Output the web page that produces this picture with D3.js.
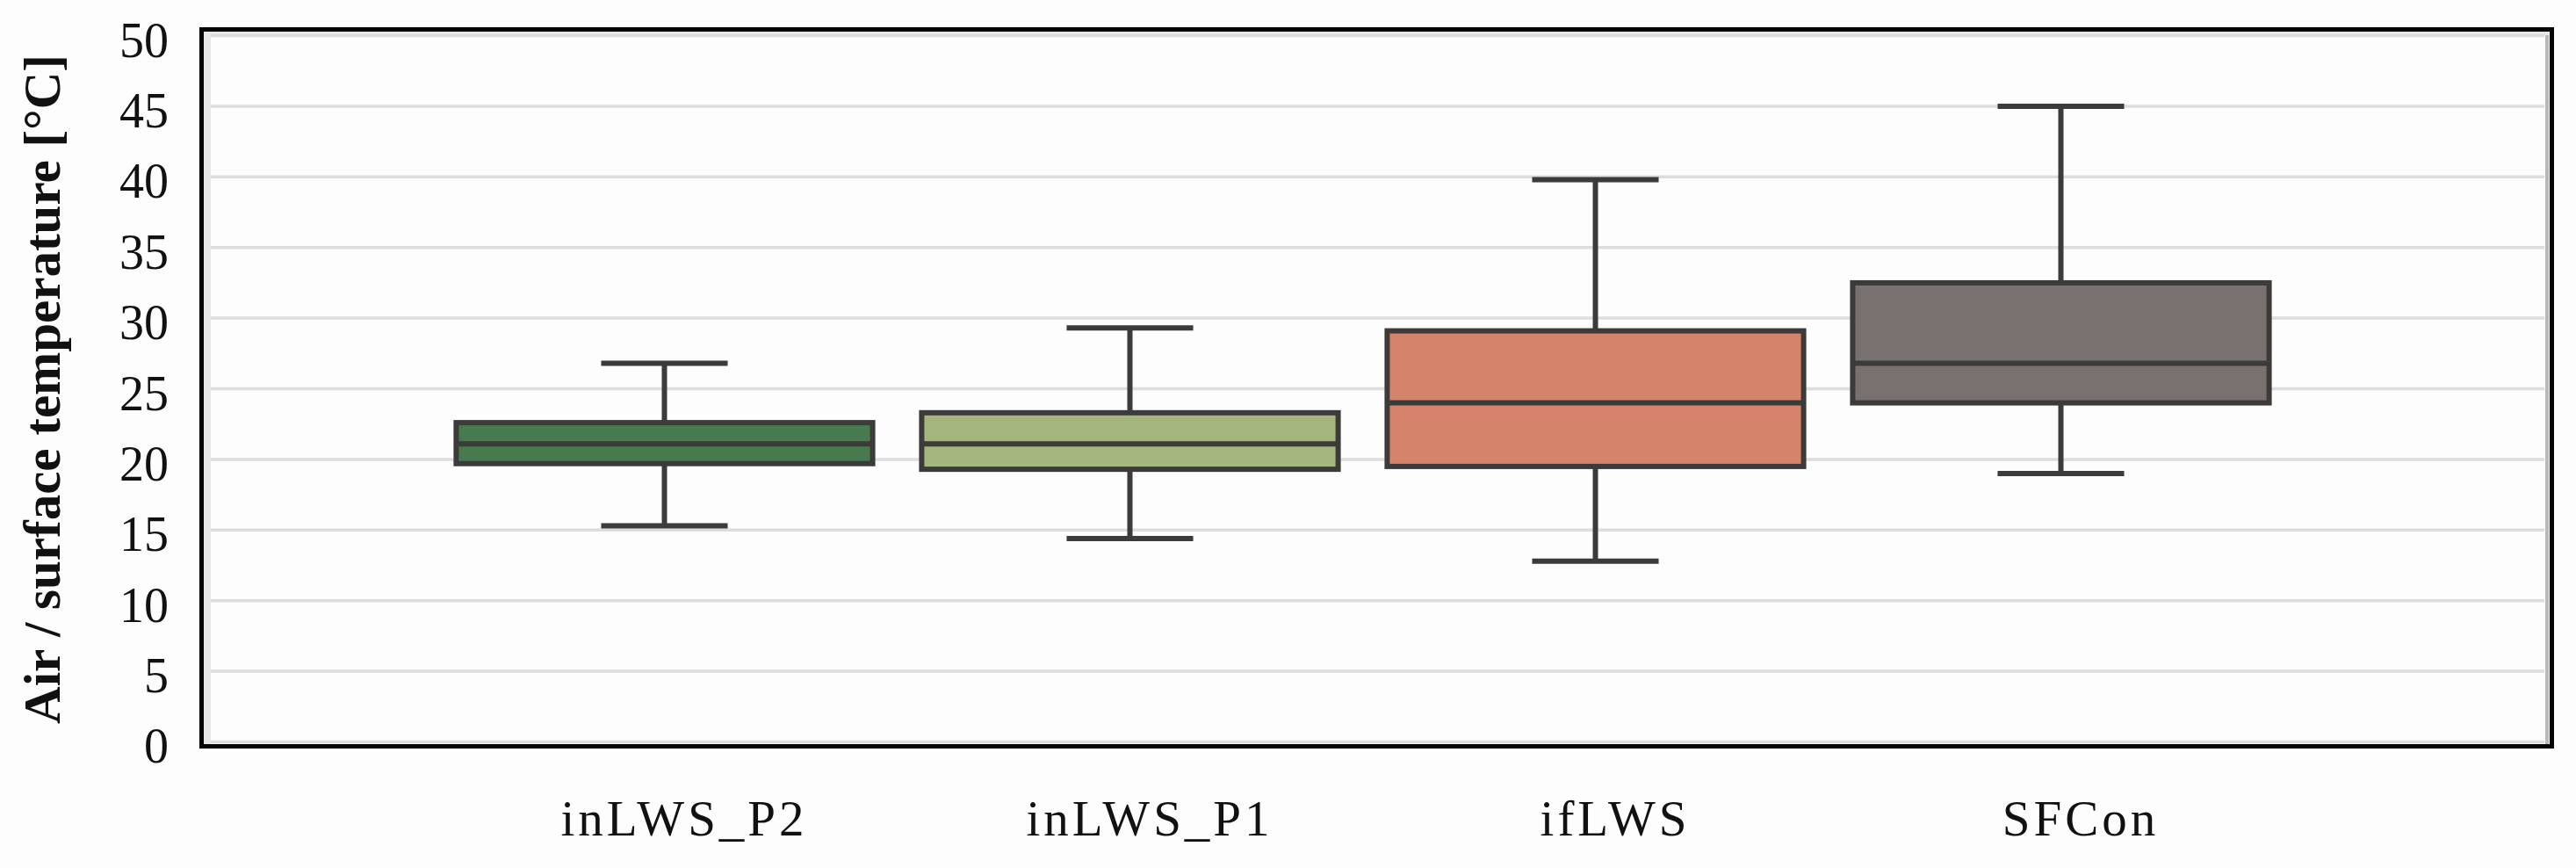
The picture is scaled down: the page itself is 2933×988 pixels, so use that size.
<!DOCTYPE html>
<html>
<head>
<meta charset="utf-8">
<script src="https://cdn.jsdelivr.net/npm/d3@7"></script>
<style>
  html, body { margin: 0; padding: 0; background: #fdfdfd; }
  svg { display: block; }
</style>
</head>
<body>
<svg id="chart" width="2933" height="988"></svg>
<script>
// ---- data ----
const categories   = ["inLWS_P2", "inLWS_P1", "ifLWS", "SFCon"];
const whiskerLow   = [15.3, 14.4, 12.8, 19.0];
const quartile1    = [19.7, 19.3, 19.5, 24.0];
const medians      = [21.1, 21.1, 24.0, 26.8];
const quartile3    = [22.6, 23.3, 29.1, 32.5];
const whiskerHigh  = [26.8, 29.3, 39.8, 45.0];
const yTickValues  = [0, 5, 10, 15, 20, 25, 30, 35, 40, 45, 50];
const yTitle       = "Air / surface temperature [°C]";

// ---- style ----
const fills = ["#477a4f", "#a4b57d", "#d4846a", "#787170"];
const ink = "#3d3b3a";
const font = "'Liberation Serif', 'Times New Roman', serif";

const svg = d3.select("#chart");

const frame = { left: 227, right: 2908, top: 31, bottom: 852 };
const plot = { left: 240, right: 2897 };

const y = d3.scaleLinear().domain([0, 50]).range([844.4, 40.6]);
const x = d3.scalePoint().domain(categories).range([756.5, 2346.5]);
const step = x.step();
const boxW = step * 0.906;
const capW = boxW * 0.3;

// plot area background
svg.append("rect")
  .attr("x", frame.left).attr("y", frame.top)
  .attr("width", frame.right - frame.left).attr("height", frame.bottom - frame.top)
  .attr("fill", "#fdfdfd");

// inner shading strips
svg.append("rect").attr("x", 232).attr("y", 35).attr("width", 8).attr("height", 812).attr("fill", "#e6e6e6");
svg.append("rect").attr("x", 2898).attr("y", 35).attr("width", 4).attr("height", 812).attr("fill", "#b8b8b8");
svg.append("rect").attr("x", 232).attr("y", 35).attr("width", 2670).attr("height", 5).attr("fill", "#e8e8e8");

// gridlines
svg.append("g").selectAll("line").data(yTickValues).join("line")
  .attr("x1", plot.left).attr("x2", plot.right)
  .attr("y1", d => y(d)).attr("y2", d => y(d))
  .attr("stroke", "#dddddd").attr("stroke-width", 3.5);

// frame
svg.append("rect")
  .attr("x", frame.left + 2.5).attr("y", frame.top + 2.5)
  .attr("width", frame.right - frame.left - 5).attr("height", frame.bottom - frame.top - 5)
  .attr("fill", "none").attr("stroke", "#050505").attr("stroke-width", 5);

// y tick labels
svg.append("g").selectAll("text").data(yTickValues).join("text")
  .attr("x", 192).attr("y", d => y(d) + 24)
  .attr("text-anchor", "end")
  .attr("font-family", font).attr("font-size", 56).attr("fill", "#111")
  .text(d => d);

// y title
svg.append("text")
  .attr("transform", "translate(68,443) rotate(-90)")
  .attr("text-anchor", "middle")
  .attr("font-family", font).attr("font-size", 59).attr("font-weight", "bold").attr("fill", "#111")
  .text(yTitle);

// x labels via axis
const xAxis = d3.axisBottom(x).tickSize(0).tickPadding(0);
const gx = svg.append("g").attr("transform", "translate(22,951)").call(xAxis);
gx.select(".domain").remove();
gx.selectAll("text")
  .attr("dy", 0).attr("y", 0)
  .attr("font-family", font).attr("font-size", 57).attr("fill", "#111")
  .attr("letter-spacing", "4px");

// boxes
const boxes = svg.append("g").selectAll("g").data(categories).join("g");

boxes.append("line") // upper whisker
  .attr("x1", d => x(d)).attr("x2", d => x(d))
  .attr("y1", (d, i) => y(quartile3[i])).attr("y2", (d, i) => y(whiskerHigh[i]))
  .attr("stroke", ink).attr("stroke-width", 6);
boxes.append("line") // lower whisker
  .attr("x1", d => x(d)).attr("x2", d => x(d))
  .attr("y1", (d, i) => y(quartile1[i])).attr("y2", (d, i) => y(whiskerLow[i]))
  .attr("stroke", ink).attr("stroke-width", 6);
boxes.append("line") // upper cap
  .attr("x1", d => x(d) - capW / 2).attr("x2", d => x(d) + capW / 2)
  .attr("y1", (d, i) => y(whiskerHigh[i])).attr("y2", (d, i) => y(whiskerHigh[i]))
  .attr("stroke", ink).attr("stroke-width", 6);
boxes.append("line") // lower cap
  .attr("x1", d => x(d) - capW / 2).attr("x2", d => x(d) + capW / 2)
  .attr("y1", (d, i) => y(whiskerLow[i])).attr("y2", (d, i) => y(whiskerLow[i]))
  .attr("stroke", ink).attr("stroke-width", 6);
boxes.append("rect")
  .attr("x", d => x(d) - boxW / 2 + 3).attr("width", boxW - 6)
  .attr("y", (d, i) => y(quartile3[i])).attr("height", (d, i) => y(quartile1[i]) - y(quartile3[i]))
  .attr("fill", (d, i) => fills[i]).attr("stroke", ink).attr("stroke-width", 6);
boxes.append("line") // median
  .attr("x1", d => x(d) - boxW / 2 + 3).attr("x2", d => x(d) + boxW / 2 - 3)
  .attr("y1", (d, i) => y(medians[i])).attr("y2", (d, i) => y(medians[i]))
  .attr("stroke", ink).attr("stroke-width", 6);
</script>
</body>
</html>
